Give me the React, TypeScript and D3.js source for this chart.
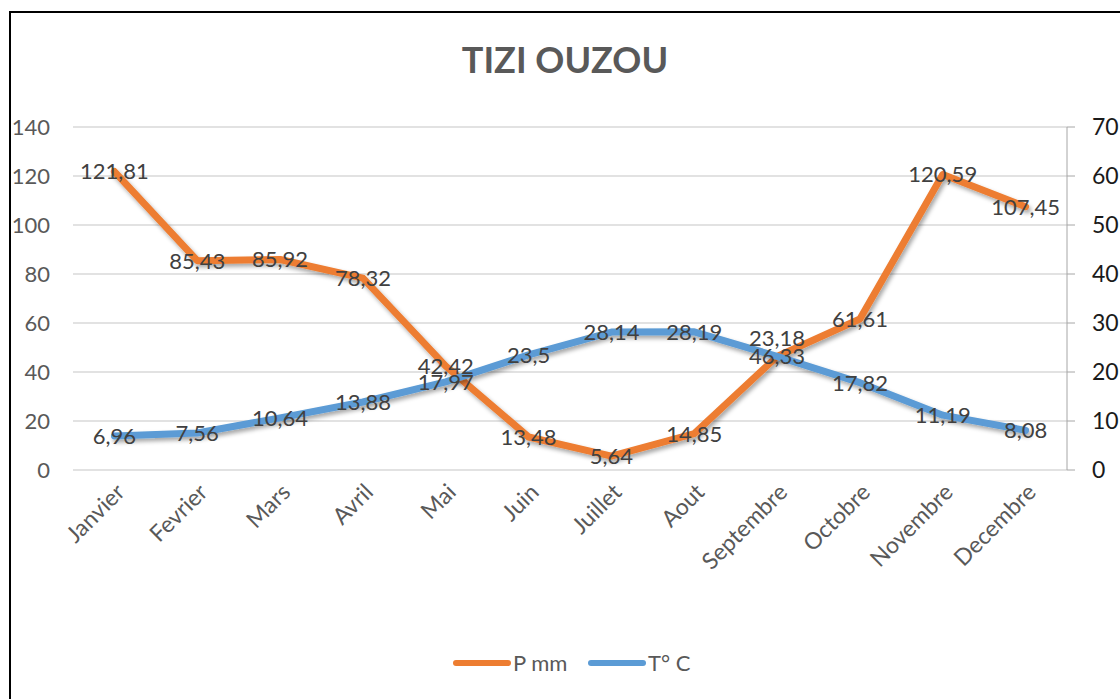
import React, { useEffect, useRef } from 'react';
import * as d3 from 'd3';

const months = ['Janvier', 'Fevrier', 'Mars', 'Avril', 'Mai', 'Juin', 'Juillet', 'Aout', 'Septembre', 'Octobre', 'Novembre', 'Decembre'];
const precip = [121.81, 85.43, 85.92, 78.32, 42.42, 13.48, 5.64, 14.85, 46.33, 61.61, 120.59, 107.45];
const temp = [6.96, 7.56, 10.64, 13.88, 17.97, 23.5, 28.14, 28.19, 23.18, 17.82, 11.19, 8.08];
const leftTicks = [0, 20, 40, 60, 80, 100, 120, 140];
const rightTicks = [0, 10, 20, 30, 40, 50, 60, 70];
// Septembre temperature label sits a bit above its point in the original
const tempLabelNudge = [0, 0, 0, 0, 0, 0, 0, 0, -18, 0, 0, 0];

const W = 1120;
const H = 699;
const FONT = 'Lato, "Open Sans", sans-serif';

const App = () => {
  const ref = useRef<SVGSVGElement>(null);

  useEffect(() => {
    const svg = d3.select(ref.current);
    svg.selectAll('*').remove();

    const left = 73, right = 1067, top = 127, bottom = 470;

    const x = d3.scaleBand().domain(months).range([left, right]);
    const yL = d3.scaleLinear().domain([0, 140]).range([bottom, top]);
    const yR = d3.scaleLinear().domain([0, 70]).range([bottom, top]);
    const cx = (m: string) => (x(m) as number) + x.bandwidth() / 2;

    const defs = svg.append('defs');
    const f = defs.append('filter').attr('id', 'shadow').attr('x', '-10%').attr('y', '-10%').attr('width', '120%').attr('height', '130%');
    f.append('feDropShadow').attr('dx', 2).attr('dy', 3).attr('stdDeviation', 2).attr('flood-color', '#000').attr('flood-opacity', 0.35);

    svg.append('rect').attr('width', W).attr('height', H).attr('fill', '#fff');
    svg.append('rect').attr('x', 10).attr('y', 12).attr('width', W).attr('height', H)
      .attr('fill', 'none').attr('stroke', '#000').attr('stroke-width', 2);

    svg.append('text').attr('x', 565).attr('y', 73).attr('text-anchor', 'middle')
      .attr('font-family', FONT).attr('font-weight', 'bold').attr('font-size', 36)
      .attr('fill', '#595959').text('TIZI OUZOU');

    // grid
    svg.append('g').selectAll('line').data(leftTicks).enter().append('line')
      .attr('x1', left).attr('x2', right)
      .attr('y1', d => yL(d)).attr('y2', d => yL(d))
      .attr('stroke', '#d9d9d9').attr('stroke-width', 1.3);

    // left axis labels
    svg.append('g').selectAll('text').data(leftTicks).enter().append('text')
      .attr('x', 50).attr('y', d => yL(d)).attr('dy', '0.36em').attr('text-anchor', 'end')
      .attr('font-family', FONT).attr('font-size', 22).attr('fill', '#595959')
      .text(d => d);

    // right axis
    const ra = svg.append('g');
    ra.append('line').attr('x1', right).attr('x2', right).attr('y1', top).attr('y2', bottom)
      .attr('stroke', '#a6a6a6').attr('stroke-width', 1);
    ra.selectAll('line.t').data(rightTicks).enter().append('line').attr('class', 't')
      .attr('x1', right).attr('x2', right + 8).attr('y1', d => yR(d)).attr('y2', d => yR(d))
      .attr('stroke', '#a6a6a6');
    ra.selectAll('text').data(rightTicks).enter().append('text')
      .attr('x', 1092).attr('y', d => yR(d)).attr('dy', '0.36em')
      .attr('font-family', FONT).attr('font-size', 23).attr('fill', '#1a1a1a')
      .text(d => d);

    // x labels
    svg.append('g').selectAll('text').data(months).enter().append('text')
      .attr('transform', d => `translate(${cx(d) + 6},${bottom + 18}) rotate(-45)`)
      .attr('text-anchor', 'end').attr('dy', '0.35em')
      .attr('font-family', FONT).attr('font-size', 23).attr('fill', '#595959')
      .text(d => d);

    const lineP = d3.line<number>().x((_, i) => cx(months[i])).y(d => yL(d));
    const lineT = d3.line<number>().x((_, i) => cx(months[i])).y(d => yR(d));

    svg.append('path').datum(precip).attr('d', lineP).attr('fill', 'none')
      .attr('stroke', '#ED7D31').attr('stroke-width', 7).attr('stroke-linejoin', 'round')
      .attr('stroke-linecap', 'round').attr('filter', 'url(#shadow)');
    svg.append('path').datum(temp).attr('d', lineT).attr('fill', 'none')
      .attr('stroke', '#5B9BD5').attr('stroke-width', 7).attr('stroke-linejoin', 'round')
      .attr('stroke-linecap', 'round').attr('filter', 'url(#shadow)');

    const fmt = (v: number) => String(v).replace('.', ',');

    svg.append('g').selectAll('text').data(precip).enter().append('text')
      .attr('x', (_, i) => cx(months[i])).attr('y', d => yL(d)).attr('dy', '0.36em')
      .attr('text-anchor', 'middle').attr('font-family', FONT).attr('font-size', 22)
      .attr('fill', '#404040').text(d => fmt(d));
    svg.append('g').selectAll('text').data(temp).enter().append('text')
      .attr('x', (_, i) => cx(months[i])).attr('y', (d, i) => yR(d) + tempLabelNudge[i]).attr('dy', '0.36em')
      .attr('text-anchor', 'middle').attr('font-family', FONT).attr('font-size', 22)
      .attr('fill', '#404040').text(d => fmt(d));

    // legend
    const lg = svg.append('g');
    const items = [
      { name: 'P mm', color: '#ED7D31', x: 456 },
      { name: 'T° C', color: '#5B9BD5', x: 591 },
    ];
    items.forEach(it => {
      lg.append('line').attr('x1', it.x).attr('x2', it.x + 52).attr('y1', 663).attr('y2', 663)
        .attr('stroke', it.color).attr('stroke-width', 6).attr('stroke-linecap', 'round');
      lg.append('text').attr('x', it.x + 57).attr('y', 663).attr('dy', '0.36em')
        .attr('font-family', FONT).attr('font-size', 22).attr('fill', '#595959').text(it.name);
    });
  }, []);

  return (
    <svg ref={ref} width={W} height={H} style={{ position: 'absolute', left: 0, top: 0 }} />
  );
};

export default App;
